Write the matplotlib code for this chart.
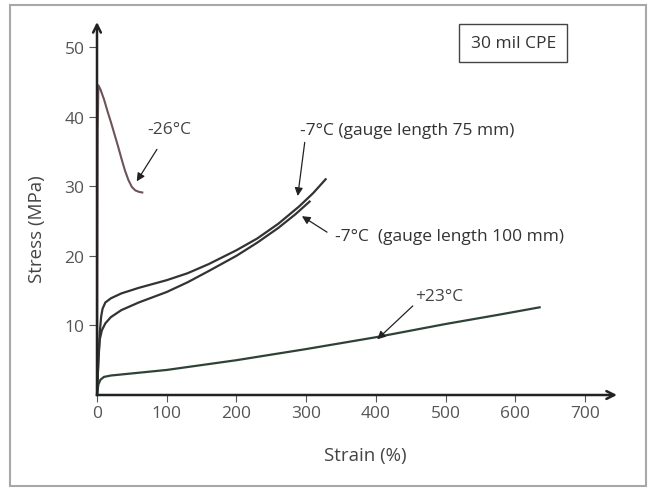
import matplotlib.pyplot as plt
from matplotlib.patches import Rectangle

plt.rcParams['font.family'] = ['Open Sans', 'DejaVu Sans']

# -26 C curve
strain_m26 = [0, 1, 2, 5, 10, 15, 20, 25, 30, 35, 40, 45, 50, 55, 60, 65]
stress_m26 = [0, 38, 44.5, 43.9, 42.5, 40.8, 39.2, 37.5, 35.8, 34, 32.3, 30.9, 29.9, 29.4, 29.2, 29.1]

# -7 C, gauge length 75 mm
strain_m7_75 = [0, 2, 4, 6, 8, 12, 20, 35, 60, 100, 130, 160, 200, 230, 260, 290, 310, 328]
stress_m7_75 = [0, 5, 9, 11.3, 12.4, 13.3, 13.9, 14.6, 15.4, 16.5, 17.5, 18.8, 20.8, 22.5, 24.6, 27.1, 29.0, 31.0]

# -7 C, gauge length 100 mm
strain_m7_100 = [0, 2, 4, 7, 12, 20, 35, 60, 100, 130, 160, 200, 230, 260, 285, 305]
stress_m7_100 = [0, 5, 8, 9.3, 10.3, 11.2, 12.2, 13.3, 14.8, 16.2, 17.8, 20, 21.9, 24, 26, 27.8]

# +23 C
strain_p23 = [0, 2, 5, 10, 20, 40, 100, 200, 300, 400, 500, 580, 635]
stress_p23 = [0, 1.5, 2.2, 2.6, 2.8, 3.0, 3.6, 5.0, 6.6, 8.3, 10.2, 11.6, 12.6]

x_ticks = [0, 100, 200, 300, 400, 500, 600, 700]
y_ticks = [10, 20, 30, 40, 50]

fig = plt.figure(figsize=(6.49, 4.89), dpi=100)
ax = fig.add_axes([97/649, 1-396/489, (617-97)/649, (396-23)/489])

ax.plot(strain_m26, stress_m26, color='#6e5458', lw=1.5, clip_on=False)
ax.plot(strain_m7_75, stress_m7_75, color='#333333', lw=1.6, clip_on=False)
ax.plot(strain_m7_100, stress_m7_100, color='#333333', lw=1.6, clip_on=False)
ax.plot(strain_p23, stress_p23, color='#2f4236', lw=1.6, clip_on=False)

ax.set_xlim(0, 746)
ax.set_ylim(0, 53.6)
for s in ax.spines.values():
    s.set_visible(False)

# axes drawn as arrows
ax.annotate('', xy=(0, 1), xytext=(0, 0), xycoords='axes fraction',
            arrowprops=dict(arrowstyle='->', lw=1.8, color='#222222', mutation_scale=14,
                            shrinkA=0, shrinkB=0))
ax.annotate('', xy=(1, 0), xytext=(0, 0), xycoords='axes fraction',
            arrowprops=dict(arrowstyle='->', lw=1.8, color='#222222', mutation_scale=14,
                            shrinkA=0, shrinkB=0))

ax.set_xticks(x_ticks)
ax.set_yticks(y_ticks)
ax.tick_params(axis='x', direction='out', length=5, width=0.8, pad=2, labelsize=12.5,
               colors='#555555')
ax.tick_params(axis='y', direction='out', length=6, width=0.8, pad=3, labelsize=12.5,
               colors='#555555')

fig.text(37/649, 1-229/489, 'Stress (MPa)', rotation=90, ha='center', va='center',
         fontsize=13.5, color='#444444')
fig.text(365/649, 1-456/489, 'Strain (%)', ha='center', va='center',
         fontsize=13.5, color='#444444')

arrow = dict(arrowstyle='-|>', lw=0.9, color='#222222', mutation_scale=12,
             shrinkA=0, shrinkB=0)
ax.text(72, 38.2, '-26°C', fontsize=12.5, color='#444444', va='center')
ax.annotate('', xy=(57, 30.7), xytext=(86, 35.3), arrowprops=arrow)

ax.text(291, 38.1, '-7°C (gauge length 75 mm)', fontsize=12.5, color='#333333', va='center')
ax.annotate('', xy=(288, 28.6), xytext=(298, 36.3), arrowprops=arrow)

ax.text(341, 22.8, '-7°C  (gauge length 100 mm)', fontsize=12.5, color='#333333', va='center')
ax.annotate('', xy=(294, 25.7), xytext=(330, 23.4), arrowprops=arrow)

ax.text(456, 14.2, '+23°C', fontsize=12.5, color='#444444', va='center')
ax.annotate('', xy=(402, 8.0), xytext=(453, 12.8), arrowprops=arrow)

ax.text(597, 50.6, '30 mil CPE', fontsize=12.5, color='#333333', ha='center', va='center',
        bbox=dict(boxstyle='square,pad=0.65', fc='white', ec='#444444', lw=1.0))

fig.patches.append(Rectangle((10/649, 2/489), 636/649, 481/489, transform=fig.transFigure,
                             fill=False, ec='#a8a8a8', lw=1.5))

fig.savefig('out.png', dpi=100)
